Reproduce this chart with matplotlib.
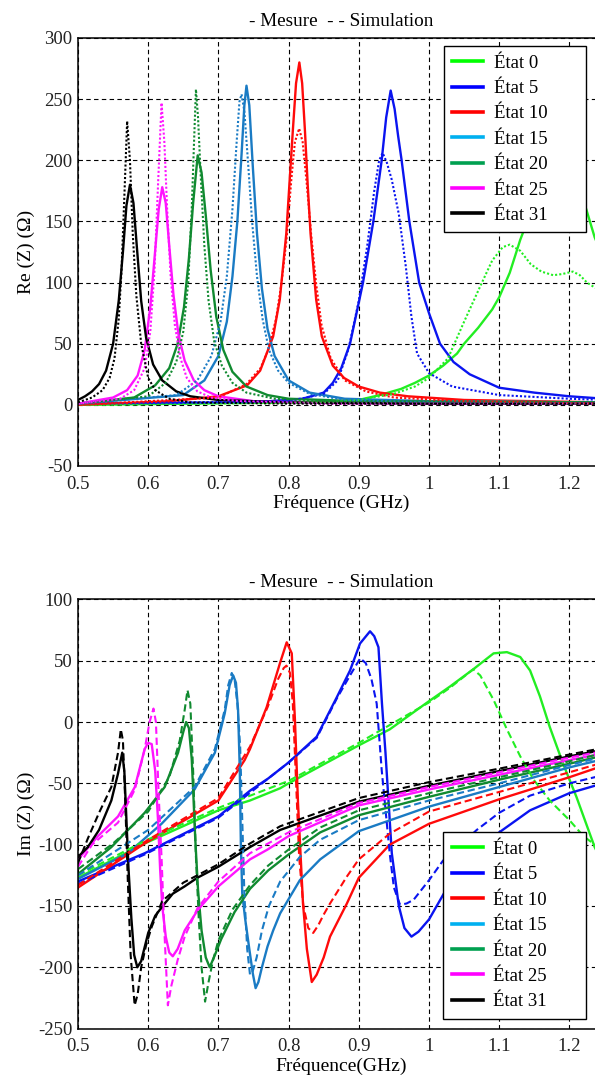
import matplotlib
matplotlib.use("Agg")
import matplotlib.pyplot as plt
from matplotlib.lines import Line2D

# ---------------- data ----------------
states = ["État 0", "État 5", "État 10", "État 15", "État 20", "État 25", "État 31"]
line_colors = ["#22ee22", "#0a14f0", "#ff0a0a", "#1a7bc4", "#108a30", "#ff14ff", "#000000"]
legend_colors = ["#00ff00", "#0000ff", "#ff0000", "#00b0f0", "#00a050", "#ff00ff", "#000000"]

xticks = [0.5, 0.6, 0.7, 0.8, 0.9, 1.0, 1.1, 1.2]
xtick_labels = ["0.5", "0.6", "0.7", "0.8", "0.9", "1", "1.1", "1.2"]
re_yticks = [-50, 0, 50, 100, 150, 200, 250, 300]
im_yticks = [-250, -200, -150, -100, -50, 0, 50, 100]

# Re(Z) measured / simulated : (frequency GHz, ohm)
re_meas_e0 = [(0.50,0),(0.80,2),(0.88,3),(0.90,4),(0.93,8),(0.96,13),(0.98,18),(1.00,24),(1.02,32),(1.04,42),(1.05,50),(1.07,63),(1.09,78),(1.10,88),(1.115,108),(1.13,135),(1.14,150),(1.16,178),(1.18,195),(1.19,198),(1.205,188),(1.215,172),(1.224,160),(1.236,137),(1.25,118)]
re_sim_e0 = [(0.50,0),(0.85,2),(0.90,4),(0.95,9),(0.98,15),(1.00,22),(1.027,38),(1.05,68),(1.073,97),(1.09,118),(1.105,129),(1.115,131),(1.13,126),(1.145,115),(1.16,109),(1.177,106),(1.19,107),(1.205,109),(1.215,106),(1.225,100),(1.236,96),(1.25,92)]
re_meas_e5 = [(0.50,1),(0.75,2),(0.82,5),(0.85,10),(0.863,18),(0.875,30),(0.8875,50),(0.906,100),(0.9207,150),(0.9326,200),(0.939,235),(0.9454,257),(0.951,242),(0.956,220),(0.961,200),(0.972,150),(0.986,100),(1.0,75),(1.0157,50),(1.035,35),(1.058,25),(1.1,14),(1.15,10),(1.2,7),(1.25,5)]
re_sim_e5 = [(0.50,1),(0.80,3),(0.85,9),(0.87,20),(0.885,45),(0.90,85),(0.912,130),(0.922,175),(0.929,200),(0.934,206),(0.940,198),(0.947,184),(0.957,156),(0.967,113),(0.975,72),(0.983,42),(1.0,26),(1.033,15),(1.1,8),(1.2,5),(1.25,4)]
re_meas_e10 = [(0.50,0),(0.63,3),(0.70,7),(0.741,16),(0.7595,28),(0.778,56),(0.7874,86),(0.7967,140),(0.801,179),(0.806,224),(0.8106,263),(0.8153,280),(0.8193,263),(0.8233,224),(0.8273,179),(0.8313,140),(0.8393,86),(0.8473,56),(0.863,32),(0.879,22),(0.90,15),(0.93,10),(0.97,7),(1.05,4),(1.25,2)]
re_sim_e10 = [(0.50,0),(0.70,6),(0.74,17),(0.76,30),(0.771,45),(0.782,70),(0.790,100),(0.797,135),(0.804,185),(0.809,215),(0.815,226),(0.820,215),(0.826,180),(0.832,140),(0.839,100),(0.847,65),(0.86,38),(0.88,20),(0.91,11),(0.95,6),(1.05,3),(1.25,1)]
re_meas_e15 = [(0.50,1),(0.65,8),(0.68,20),(0.70,40),(0.712,68),(0.72,105),(0.727,150),(0.733,205),(0.737,245),(0.740,261),(0.744,245),(0.749,195),(0.755,140),(0.762,95),(0.77,62),(0.78,40),(0.80,20),(0.83,10),(0.88,5),(1.0,3),(1.25,2)]
re_sim_e15 = [(0.50,1),(0.64,8),(0.67,20),(0.69,40),(0.703,68),(0.712,105),(0.72,160),(0.726,215),(0.730,248),(0.733,254),(0.737,240),(0.742,200),(0.748,150),(0.755,105),(0.763,70),(0.772,45),(0.785,28),(0.80,18),(0.83,9),(0.88,4),(1.0,2),(1.25,1)]
re_meas_e20 = [(0.50,1),(0.58,6),(0.61,16),(0.63,30),(0.642,50),(0.651,80),(0.658,120),(0.664,165),(0.6705,204),(0.676,190),(0.682,155),(0.689,110),(0.697,72),(0.707,45),(0.72,27),(0.74,15),(0.77,8),(0.80,5),(0.90,3),(1.25,2)]
re_sim_e20 = [(0.50,1),(0.60,7),(0.625,18),(0.64,35),(0.65,60),(0.657,100),(0.662,160),(0.665,210),(0.668,258),(0.671,235),(0.675,185),(0.68,130),(0.686,85),(0.694,52),(0.705,32),(0.72,18),(0.74,10),(0.78,5),(0.90,2),(1.25,1)]
re_meas_e25 = [(0.50,1),(0.55,6),(0.57,12),(0.585,24),(0.595,45),(0.603,80),(0.609,120),(0.615,160),(0.620,178),(0.625,165),(0.630,130),(0.636,90),(0.643,58),(0.652,36),(0.665,20),(0.68,12),(0.70,7),(0.75,3),(0.85,1.5),(1.25,1)]
re_sim_e25 = [(0.50,1),(0.56,5),(0.58,12),(0.595,30),(0.603,60),(0.609,110),(0.614,180),(0.619,247),(0.623,215),(0.627,160),(0.632,105),(0.638,65),(0.646,38),(0.655,22),(0.67,11),(0.69,6),(0.73,3),(0.85,1),(1.25,1)]
re_meas_e31 = [(0.50,4),(0.51,7),(0.52,11),(0.53,17),(0.54,28),(0.55,50),(0.558,85),(0.564,125),(0.569,163),(0.574,180),(0.579,165),(0.584,128),(0.590,85),(0.597,55),(0.607,33),(0.62,20),(0.64,11),(0.66,7),(0.70,4),(0.80,2),(1.0,1),(1.25,1)]
re_sim_e31 = [(0.50,2),(0.52,6),(0.535,12),(0.545,22),(0.552,38),(0.558,70),(0.562,110),(0.566,170),(0.570,232),(0.574,200),(0.578,140),(0.583,90),(0.59,50),(0.60,22),(0.61,12),(0.63,5),(0.66,2),(0.80,1),(1.25,1)]

# Im(Z) measured / simulated : (frequency GHz, ohm)
im_meas_e0 = [(0.50,-127),(0.595,-99),(0.70,-72),(0.745,-64),(0.788,-54),(0.80,-50),(0.90,-19),(0.944,-6),(1.0,17),(1.03,29),(1.063,43),(1.092,56),(1.111,57),(1.13,53),(1.144,42),(1.158,21),(1.172,-4),(1.191,-34),(1.21,-61),(1.229,-91),(1.236,-102),(1.25,-118)]
im_sim_e0 = [(0.50,-125),(0.595,-97),(0.70,-70),(0.80,-48),(0.90,-17),(1.0,16),(1.03,28),(1.063,43),(1.073,38),(1.092,18),(1.111,-6),(1.13,-28),(1.149,-47),(1.172,-64),(1.20,-80),(1.22,-93),(1.236,-100),(1.25,-105)]
im_meas_e5 = [(0.50,-130),(0.595,-107),(0.70,-77),(0.745,-56),(0.771,-46),(0.80,-33),(0.84,-12),(0.8685,20),(0.8875,42),(0.9017,64),(0.916,74),(0.922,70),(0.928,61),(0.933,15),(0.938,-25),(0.947,-107),(0.957,-150),(0.965,-168),(0.975,-175),(0.985,-171),(1.0,-161),(1.024,-137),(1.052,-112),(1.1,-90),(1.144,-72),(1.2,-58),(1.236,-52),(1.25,-50)]
im_sim_e5 = [(0.50,-132),(0.595,-108),(0.70,-78),(0.80,-33),(0.84,-13),(0.8685,19),(0.8875,38),(0.902,52),(0.91,48),(0.918,35),(0.9255,15),(0.9326,-39),(0.944,-107),(0.95,-135),(0.9587,-149),(0.968,-148),(0.978,-145),(1.0,-129),(1.02,-113),(1.068,-88),(1.1,-74),(1.144,-60),(1.2,-50),(1.236,-45),(1.25,-43)]
im_meas_e10 = [(0.50,-135),(0.595,-99),(0.70,-64),(0.7374,-31),(0.745,-22),(0.7687,12),(0.7877,48),(0.7973,65),(0.8045,56),(0.809,2),(0.8134,-66),(0.8205,-148),(0.826,-185),(0.833,-212),(0.840,-206),(0.85,-192),(0.859,-175),(0.883,-148),(0.90,-127),(0.944,-100),(1.0,-83),(1.05,-73),(1.1,-63),(1.15,-54),(1.2,-45),(1.236,-38),(1.25,-36)]
im_sim_e10 = [(0.50,-133),(0.60,-96),(0.70,-62),(0.745,-20),(0.77,12),(0.785,35),(0.793,44),(0.797,46),(0.802,40),(0.806,15),(0.810,-40),(0.815,-110),(0.821,-150),(0.828,-168),(0.835,-172),(0.842,-166),(0.85,-157),(0.859,-148),(0.883,-126),(0.90,-112),(0.944,-91),(1.0,-73),(1.1,-57),(1.2,-41),(1.236,-35),(1.25,-33)]
im_meas_e15 = [(0.50,-128),(0.571,-107),(0.619,-83),(0.666,-55),(0.695,-25),(0.709,7),(0.716,30),(0.721,38),(0.725,32),(0.728,10),(0.7305,-40),(0.732,-100),(0.734,-140),(0.738,-160),(0.744,-185),(0.749,-205),(0.753,-217),(0.757,-212),(0.762,-200),(0.770,-183),(0.778,-170),(0.788,-156),(0.816,-129),(0.845,-112),(0.90,-89),(1.0,-69),(1.05,-61),(1.1,-53),(1.15,-45),(1.2,-37),(1.236,-32),(1.25,-30)]
im_sim_e15 = [(0.50,-125),(0.60,-88),(0.666,-53),(0.695,-22),(0.709,10),(0.714,30),(0.719,40),(0.723,35),(0.727,15),(0.731,-20),(0.734,-80),(0.737,-140),(0.741,-185),(0.745,-206),(0.749,-203),(0.7545,-192),(0.762,-170),(0.772,-150),(0.788,-130),(0.816,-110),(0.845,-96),(0.90,-80),(1.0,-64),(1.1,-50),(1.2,-35),(1.236,-30),(1.25,-28)]
im_meas_e20 = [(0.50,-124),(0.5475,-102),(0.595,-74),(0.6235,-53),(0.6425,-25),(0.650,-8),(0.654,0),(0.658,-5),(0.662,-30),(0.664,-55),(0.667,-95),(0.671,-137),(0.676,-170),(0.682,-192),(0.6876,-200),(0.695,-190),(0.704,-177),(0.723,-155),(0.745,-136),(0.771,-121),(0.80,-108),(0.845,-90),(0.90,-76),(1.0,-61),(1.1,-47),(1.2,-34),(1.236,-29),(1.25,-27)]
im_sim_e20 = [(0.50,-120),(0.55,-99),(0.60,-73),(0.63,-45),(0.645,-15),(0.652,10),(0.656,26),(0.660,15),(0.664,-40),(0.668,-110),(0.672,-160),(0.676,-200),(0.681,-228),(0.686,-212),(0.692,-195),(0.70,-178),(0.72,-153),(0.745,-133),(0.771,-117),(0.80,-104),(0.845,-86),(0.90,-72),(1.0,-58),(1.1,-45),(1.2,-32),(1.236,-27),(1.25,-25)]
im_meas_e25 = [(0.50,-112),(0.5285,-93),(0.557,-77),(0.581,-53),(0.595,-22),(0.600,-17),(0.605,-18),(0.610,-40),(0.614,-80),(0.617,-120),(0.620,-150),(0.625,-175),(0.630,-188),(0.635,-191),(0.642,-185),(0.652,-170),(0.671,-153),(0.70,-134),(0.745,-112),(0.77,-104),(0.80,-93),(0.90,-68),(1.0,-55),(1.1,-43),(1.2,-31),(1.236,-27),(1.25,-25)]
im_sim_e25 = [(0.50,-118),(0.52,-100),(0.557,-82),(0.581,-55),(0.595,-22),(0.602,0),(0.6075,11),(0.611,0),(0.615,-60),(0.619,-110),(0.623,-170),(0.628,-231),(0.633,-215),(0.642,-194),(0.652,-175),(0.67,-152),(0.70,-130),(0.745,-107),(0.80,-90),(0.90,-66),(1.0,-53),(1.1,-41),(1.2,-29),(1.236,-25),(1.25,-24)]
im_meas_e31 = [(0.50,-110),(0.514,-102),(0.530,-88),(0.5475,-64),(0.557,-42),(0.563,-25),(0.566,-40),(0.569,-80),(0.572,-120),(0.576,-160),(0.580,-190),(0.5845,-200),(0.59,-195),(0.60,-172),(0.61,-158),(0.6235,-148),(0.635,-140),(0.652,-134),(0.67,-127),(0.70,-118),(0.745,-102),(0.788,-88),(0.90,-65),(1.0,-52),(1.1,-40),(1.2,-28),(1.236,-24),(1.25,-23)]
im_sim_e31 = [(0.50,-115),(0.514,-95),(0.530,-74),(0.5475,-53),(0.557,-25),(0.561,-6),(0.564,-15),(0.567,-60),(0.571,-130),(0.575,-190),(0.5807,-231),(0.585,-222),(0.59,-200),(0.597,-182),(0.605,-167),(0.62,-146),(0.65,-131),(0.70,-116),(0.745,-99),(0.788,-85),(0.90,-62),(1.0,-49),(1.1,-38),(1.2,-26.5),(1.236,-22.5),(1.25,-21)]

re_meas = [re_meas_e0, re_meas_e5, re_meas_e10, re_meas_e15, re_meas_e20, re_meas_e25, re_meas_e31]
re_sim = [re_sim_e0, re_sim_e5, re_sim_e10, re_sim_e15, re_sim_e20, re_sim_e25, re_sim_e31]
im_meas = [im_meas_e0, im_meas_e5, im_meas_e10, im_meas_e15, im_meas_e20, im_meas_e25, im_meas_e31]
im_sim = [im_sim_e0, im_sim_e5, im_sim_e10, im_sim_e15, im_sim_e20, im_sim_e25, im_sim_e31]

# ---------------- figure ----------------
plt.rcParams['font.family'] = ['Liberation Serif', 'DejaVu Serif']
plt.rcParams['axes.unicode_minus'] = False

W, H = 595, 1075
fig = plt.figure(figsize=(W / 100, H / 100), dpi=100)

def axes_px(left, right, top, bottom):
    return fig.add_axes([left / W, 1 - bottom / H, (right - left) / W, (bottom - top) / H])

ax1 = axes_px(78, 604.5, 38, 466)
ax2 = axes_px(78, 604.5, 599.4, 1028.6)

def style(ax, yticks, ylim, ylabel, xlabel, title):
    ax.set_xlim(0.5, 1.25)
    ax.set_ylim(*ylim)
    ax.set_xticks(xticks)
    ax.set_xticklabels(xtick_labels)
    ax.set_yticks(yticks)
    ax.tick_params(axis='both', labelsize=13.5, length=0, colors='#222222')
    ax.tick_params(axis='x', pad=7)
    ax.tick_params(axis='y', pad=4)
    ax.grid(True, color='black', linestyle=(0, (4, 3)), linewidth=0.8)
    ax.set_axisbelow(True)
    for s in ax.spines.values():
        s.set_linewidth(1.1)
        s.set_color('black')
    ax.set_ylabel(ylabel, fontsize=14)
    ax.yaxis.set_label_coords(-0.082, 0.5)
    ax.set_xlabel(xlabel, fontsize=14)
    ax.xaxis.set_label_coords(0.5, -0.068)
    ax.set_title(title, fontsize=13.8, pad=9)

def draw(ax, meas, sim, sim_style):
    for data, col in zip(meas, line_colors):
        f, v = zip(*data)
        ax.plot(f, v, color=col, linewidth=1.7, solid_joinstyle='round')
    for data, col in zip(sim, line_colors):
        f, v = zip(*data)
        ax.plot(f, v, color=col, linewidth=1.5, linestyle=sim_style)

def legend(ax, x0, ytop):
    handles = [Line2D([], [], color=c, linewidth=2.6) for c in legend_colors]
    leg = ax.legend(handles, states, loc='upper left', bbox_to_anchor=(x0, ytop - 0.01, 0.27, 0.01),
                    mode='expand', fontsize=13.5, frameon=True, fancybox=False, framealpha=1,
                    edgecolor='black', borderaxespad=0, borderpad=0.45, handlelength=1.65,
                    handletextpad=0.55, labelspacing=0.44)
    leg.get_frame().set_linewidth(1.0)
    leg.set_zorder(10)

draw(ax1, re_meas, re_sim, (0, (1, 1.0)))
style(ax1, re_yticks, (-50, 300), 'Re (Z) (Ω)', 'Fréquence (GHz)', '- Mesure  - - Simulation')
legend(ax1, 0.695, 0.981)

draw(ax2, im_meas, im_sim, (0, (3.5, 1.8)))
style(ax2, im_yticks, (-250, 100), 'Im (Z) (Ω)', 'Fréquence(GHz)', '- Mesure  - - Simulation')
legend(ax2, 0.694, 0.457)

fig.savefig('out.png', dpi=100)
